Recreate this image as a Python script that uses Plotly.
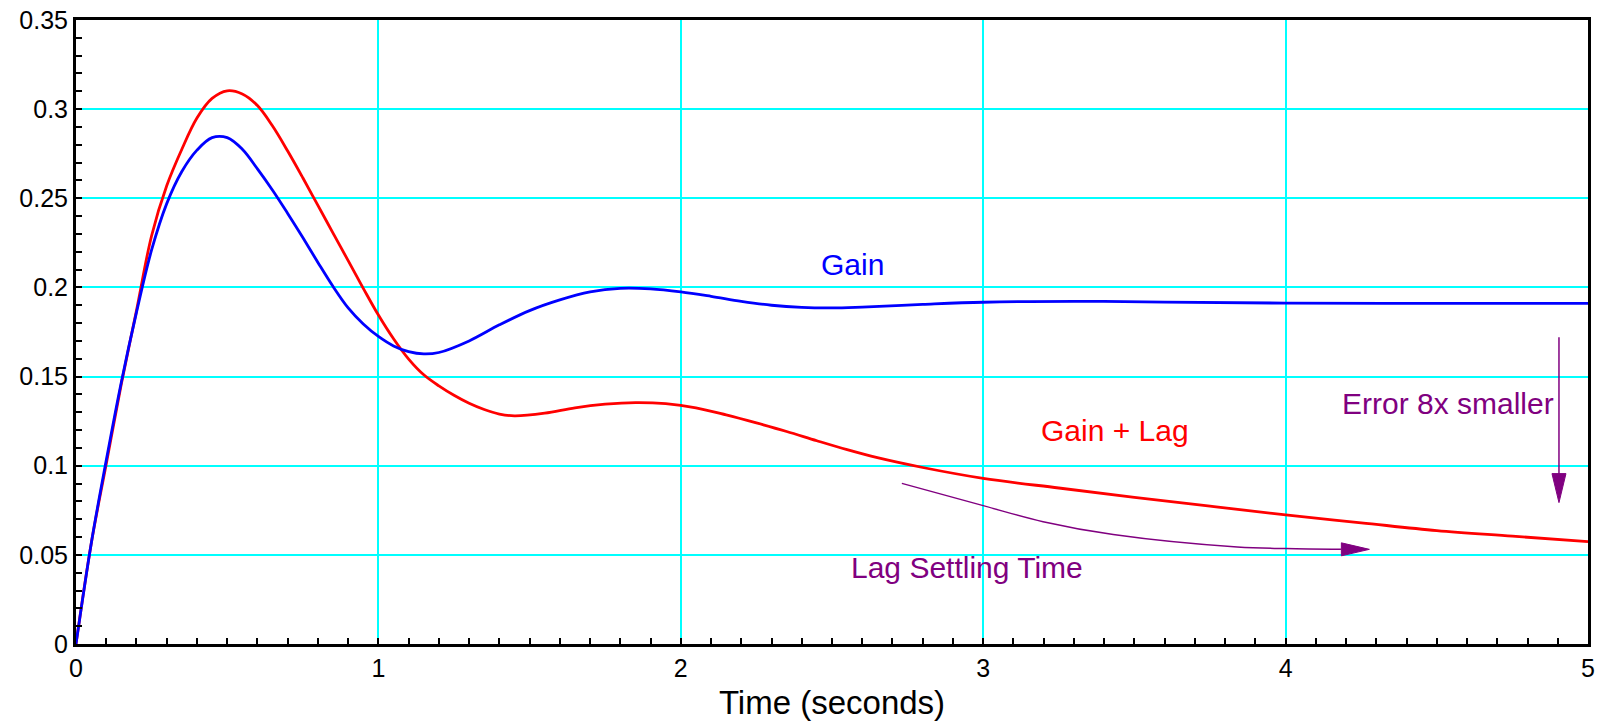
import plotly.graph_objects as go

# ---- data ----
gain_t = [0, 0.05, 0.10, 0.15, 0.20, 0.25, 0.30, 0.35, 0.40, 0.45, 0.50, 0.55, 0.60, 0.65, 0.70,
          0.75, 0.80, 0.85, 0.90, 0.95, 1.00, 1.05, 1.10, 1.15, 1.20, 1.30, 1.40, 1.50, 1.60, 1.70,
          1.80, 1.90, 2.00, 2.10, 2.20, 2.30, 2.40, 2.50, 2.60, 2.80, 3.00, 3.30, 3.60, 4.00, 4.50, 5.00]
gain_v = [0, 0.056, 0.103, 0.147, 0.186, 0.221, 0.247, 0.265, 0.277, 0.284, 0.284, 0.2775, 0.2665,
          0.2545, 0.2415, 0.228, 0.214, 0.2005, 0.1885, 0.1795, 0.1725, 0.1672, 0.164, 0.1627, 0.1635,
          0.170, 0.179, 0.187, 0.193, 0.1975, 0.1995, 0.1992, 0.1975, 0.195, 0.1922, 0.190, 0.1888,
          0.1885, 0.189, 0.1905, 0.1917, 0.1922, 0.1918, 0.1912, 0.1911, 0.1911]

lag_t = [0, 0.05, 0.10, 0.15, 0.20, 0.25, 0.30, 0.35, 0.40, 0.45, 0.50, 0.55, 0.60, 0.65, 0.70,
         0.75, 0.80, 0.85, 0.90, 0.95, 1.00, 1.05, 1.10, 1.15, 1.20, 1.25, 1.30, 1.35, 1.40, 1.45,
         1.55, 1.65, 1.75, 1.85, 1.95, 2.05, 2.15, 2.25, 2.35, 2.45, 2.55, 2.65, 2.80, 3.00, 3.25,
         3.50, 3.75, 4.00, 4.25, 4.50, 4.75, 5.00]
lag_v = [0, 0.056, 0.101, 0.146, 0.187, 0.229, 0.257, 0.2775, 0.295, 0.306, 0.3103, 0.3085, 0.302,
         0.2905, 0.2765, 0.2615, 0.246, 0.2305, 0.215, 0.1995, 0.1845, 0.1712, 0.1598, 0.151, 0.1448,
         0.1395, 0.135, 0.1315, 0.129, 0.128, 0.1295, 0.1325, 0.1345, 0.1354, 0.1348, 0.1325,
         0.1285, 0.124, 0.1192, 0.114, 0.109, 0.1045, 0.099, 0.0929, 0.0875, 0.0823, 0.0773,
         0.0724, 0.068, 0.0636, 0.0605, 0.0574]

settle_t = [2.731, 3.0, 3.198, 3.43, 3.84, 4.0, 4.183]
settle_v = [0.0901, 0.0776, 0.0686, 0.0614, 0.0544, 0.0535, 0.0531]
settle_tip = (4.277, 0.0531)

error_t = [4.904, 4.904]
error_v = [0.172, 0.0953]
error_tip = (4.904, 0.0793)

x_ticks = [0, 1, 2, 3, 4, 5]
x_ticktext = ["0", "1", "2", "3", "4", "5"]
y_ticks = [0, 0.05, 0.1, 0.15, 0.2, 0.25, 0.3, 0.35]
y_ticktext = ["0", "0.05", "0.1", "0.15", "0.2", "0.25", "0.3", "0.35"]

FONT = "Liberation Sans, Arial, Helvetica, sans-serif"
PURPLE = "#800080"

fig = go.Figure()
fig.add_trace(go.Scatter(x=lag_t, y=lag_v, mode="lines", line=dict(color="#FF0000", width=2.8, shape="spline", smoothing=1.0),
                         name="Gain + Lag", hoverinfo="skip"))
fig.add_trace(go.Scatter(x=gain_t, y=gain_v, mode="lines", line=dict(color="#0000FF", width=2.8, shape="spline", smoothing=1.0),
                         name="Gain", hoverinfo="skip"))
fig.add_trace(go.Scatter(x=settle_t, y=settle_v, mode="lines", line=dict(color=PURPLE, width=1.5, shape="spline"),
                         hoverinfo="skip"))
fig.add_trace(go.Scatter(x=error_t, y=error_v, mode="lines", line=dict(color=PURPLE, width=1.5),
                         hoverinfo="skip"))

# arrow heads (pixel-sized triangles anchored at the tips)
fig.add_shape(type="path", xref="x", yref="y", xsizemode="pixel", ysizemode="pixel",
              xanchor=settle_tip[0], yanchor=settle_tip[1],
              path="M0,0 L-28,6.5 L-28,-6.5 Z", fillcolor=PURPLE, line=dict(color=PURPLE, width=1))
fig.add_shape(type="path", xref="x", yref="y", xsizemode="pixel", ysizemode="pixel",
              xanchor=error_tip[0], yanchor=error_tip[1],
              path="M0,0 L-7,29 L7,29 Z", fillcolor=PURPLE, line=dict(color=PURPLE, width=1))

ann_font = 30
fig.add_annotation(x=2.569, y=0.2126, text="Gain", showarrow=False,
                   font=dict(family=FONT, size=ann_font, color="#0000FF"))
fig.add_annotation(x=3.436, y=0.1197, text="Gain + Lag", showarrow=False,
                   font=dict(family=FONT, size=ann_font, color="#FF0000"))
fig.add_annotation(x=4.538, y=0.135, text="Error 8x smaller", showarrow=False,
                   font=dict(family=FONT, size=ann_font, color=PURPLE))
fig.add_annotation(x=2.945, y=0.0429, text="Lag Settling Time", showarrow=False,
                   font=dict(family=FONT, size=ann_font, color=PURPLE))

axis_common = dict(showline=True, linecolor="black", linewidth=3, mirror=True, automargin=False,
                   ticks="inside", ticklen=6, tickwidth=2, tickcolor="black",
                   showgrid=True, gridcolor="#00FFFF", gridwidth=1.6, zeroline=False,
                   tickfont=dict(family=FONT, size=25, color="black"))

fig.update_xaxes(range=[0, 5], tickmode="array", tickvals=x_ticks, ticktext=x_ticktext,
                 minor=dict(tick0=0, dtick=0.1, ticks="inside", ticklen=6, tickwidth=2,
                            tickcolor="black", showgrid=False),
                 title=dict(text="Time (seconds)", font=dict(family=FONT, size=33, color="black"), standoff=11),
                 **axis_common)
fig.update_yaxes(range=[0, 0.35], tickmode="array", tickvals=y_ticks, ticktext=y_ticktext,
                 minor=dict(tick0=0, dtick=0.01, ticks="inside", ticklen=6, tickwidth=2,
                            tickcolor="black", showgrid=False),
                 **axis_common)

fig.update_layout(width=1600, height=721, margin=dict(l=76, r=12, t=20, b=77),
                  paper_bgcolor="white", plot_bgcolor="white", showlegend=False,
                  font=dict(family=FONT))

fig.write_html("out.html", config={"displayModeBar": False},
               post_script="document.body.style.margin='0';document.body.style.overflow='hidden';")
